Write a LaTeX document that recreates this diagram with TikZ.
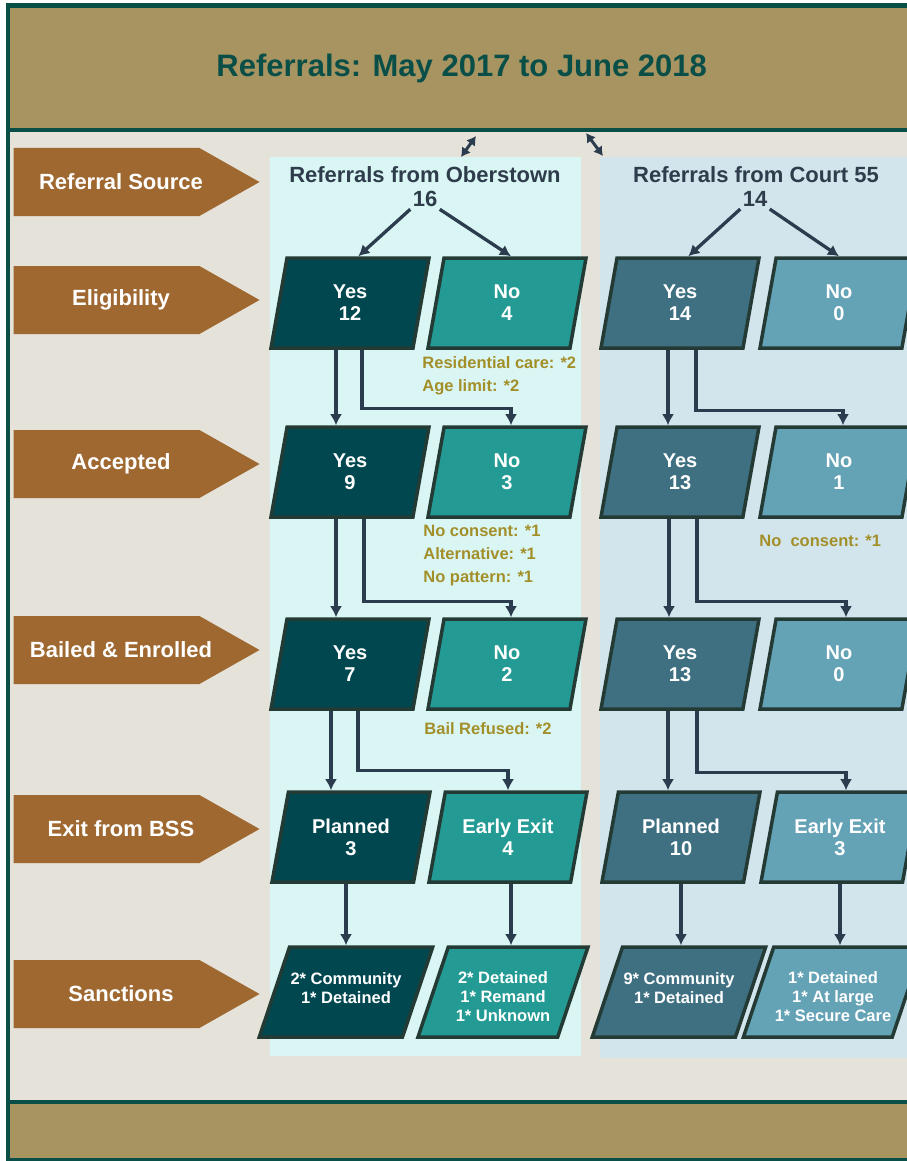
\documentclass[tikz,border=0pt]{standalone}
\usepackage{fontspec}
\setmainfont{Liberation Sans}
\usepackage{xcolor}
\definecolor{FrameGreen}{HTML}{0A4F47}
\definecolor{HeaderTan}{HTML}{A89461}
\definecolor{BodyGrey}{HTML}{E5E2DA}
\definecolor{StageBrown}{HTML}{9E6830}
\definecolor{PanelCyan}{HTML}{DAF6F4}
\definecolor{PanelBlue}{HTML}{D3E5EC}
\definecolor{YesDark}{HTML}{00474F}
\definecolor{NoTeal}{HTML}{239B94}
\definecolor{YesSlate}{HTML}{3E7082}
\definecolor{NoSteel}{HTML}{64A2B6}
\definecolor{EdgeDark}{HTML}{243B35}
\definecolor{ArrowSlate}{HTML}{2B3C4E}
\definecolor{NoteGold}{HTML}{A38F2A}
\definecolor{HeadSlate}{HTML}{2E3C4B}
\usepackage{tikz}
\usetikzlibrary{positioning,shapes.geometric,shapes.symbols,arrows.meta}

\begin{document}
\begin{tikzpicture}[x=1pt, y=-1pt, line width=3pt, >={Latex[length=11pt,width=12pt]},
    band/.style={fill=HeaderTan, inner sep=0pt, minimum width=904.5pt},
    panel/.style={inner sep=0pt, minimum width=311pt, minimum height=899pt},
    stage/.style={signal, signal to=east, signal pointer angle=59, fill=StageBrown,
        inner sep=0pt, minimum width=246pt, minimum height=68pt, anchor=west},
    stagetext/.style={text=white, inner sep=0pt, font=\bfseries\fontsize{22}{24}\selectfont},
    colhead/.style={text=HeadSlate, inner sep=1pt, font=\bfseries\fontsize{22}{24}\selectfont},
    flowbox/.style={trapezium, draw=EdgeDark, line width=3.5pt, trapezium left angle=67,
        trapezium right angle=113, trapezium stretches body, minimum width=158pt,
        minimum height=90pt, inner sep=1pt, text=white, align=center,
        font=\bfseries\fontsize{20}{22}\selectfont},
    sanctbox/.style={flowbox, trapezium left angle=64, trapezium right angle=116,
        minimum width=170pt, font=\bfseries\fontsize{16.5}{19}\selectfont},
    note/.style={text=NoteGold, inner sep=0pt, align=left, anchor=north west,
        font=\bfseries\fontsize{16.5}{23}\selectfont},
    link/.style={->, color=ArrowSlate, line width=3.3pt},
    hdrlink/.style={<->, color=ArrowSlate, line width=3pt, >={Latex[length=9pt,width=11pt]}}]
    \useasboundingbox (0,0) rectangle (906,1161);

    % background, header and footer bands
    \fill [BodyGrey] (9.5,7) rectangle (914,1159);
    \node [band, minimum height=122pt, text=FrameGreen,
           font=\bfseries\fontsize{31}{34}\selectfont] (Header) at (461.75,68) {Referrals: May 2017 to June 2018};
    \node [band, minimum height=56pt] (Footer) at (461.75,1131) {};

    \node [panel, fill=PanelCyan] (PanelObs) at (425.5,606.5) {};
    \node [panel, fill=PanelBlue, minimum width=314pt, minimum height=901pt] (PanelCourt) at (757,607.5) {};

    % stages down the left
    \node [stage] (StSource) at (12,182) {};
    \node [stage] (StElig) at (12,300) {};
    \node [stage] (StAcc) at (12,464) {};
    \node [stage] (StBail) at (12,650) {};
    \node [stage] (StExit) at (12,829) {};
    \node [stage] (StSanc) at (12,994) {};
    \node [stagetext] (StSourceTxt) at ([xshift=109]StSource.west) {Referral Source};
    \node [stagetext] (StEligTxt) at ([xshift=109]StElig.west) {Eligibility};
    \node [stagetext] (StAccTxt) at ([xshift=109]StAcc.west) {Accepted};
    \node [stagetext] (StBailTxt) at ([xshift=109]StBail.west) {Bailed \& Enrolled};
    \node [stagetext] (StExitTxt) at ([xshift=109]StExit.west) {Exit from BSS};
    \node [stagetext] (StSancTxt) at ([xshift=109]StSanc.west) {Sanctions};

    % column heads
    \node [colhead] (ObsHead) at (425,175) {Referrals from Oberstown};
    \node [colhead] (ObsTotal) at (425,199) {16};
    \node [colhead] (CourtHead) at (756,175) {Referrals from Court 55};
    \node [colhead] (CourtTotal) at (755,199) {14};

    \node [flowbox, fill=YesDark] (ElgYes1) at (350,303) {Yes\\12};
    \node [flowbox, fill=NoTeal] (ElgNo1) at (507,303) {No\\4};
    \node [flowbox, fill=YesSlate] (ElgYes2) at (680,303) {Yes\\14};
    \node [flowbox, fill=NoSteel] (ElgNo2) at (839,303) {No\\0};

    \node [flowbox, fill=YesDark] (AccYes1) at (350,472) {Yes\\9};
    \node [flowbox, fill=NoTeal] (AccNo1) at (507,472) {No\\3};
    \node [flowbox, fill=YesSlate] (AccYes2) at (680,472) {Yes\\13};
    \node [flowbox, fill=NoSteel] (AccNo2) at (839,472) {No\\1};

    \node [flowbox, fill=YesDark] (BailYes1) at (350,664) {Yes\\7};
    \node [flowbox, fill=NoTeal] (BailNo1) at (507,664) {No\\2};
    \node [flowbox, fill=YesSlate] (BailYes2) at (680,664) {Yes\\13};
    \node [flowbox, fill=NoSteel] (BailNo2) at (839,664) {No\\0};

    \node [flowbox, fill=YesDark] (ExitPlan1) at (351,837) {Planned\\3};
    \node [flowbox, fill=NoTeal] (ExitEarly1) at (508,837) {Early Exit\\4};
    \node [flowbox, fill=YesSlate] (ExitPlan2) at (681,837) {Planned\\10};
    \node [flowbox, fill=NoSteel] (ExitEarly2) at (840,837) {Early Exit\\3};

    \node [sanctbox, fill=YesDark] (SancPlan1) at (346,992) {\rule{0pt}{22pt}2* Community\\1* Detained\\\mbox{}};
    \node [sanctbox, fill=NoTeal] (SancEarly1) at (503,992) {\rule{0pt}{22pt}2* Detained\\1* Remand\\1* Unknown};
    \node [sanctbox, fill=YesSlate] (SancPlan2) at (679,992) {\rule{0pt}{22pt}9* Community\\1* Detained\\\mbox{}};
    \node [sanctbox, fill=NoSteel] (SancEarly2) at (833,992) {\rule{0pt}{22pt}1* Detained\\1* At large\\1* Secure Care};

    % reasons under the No boxes
    \node [note] (ElgNote1) at ([xshift=-5, yshift=-5]ElgNo1.bottom left corner) {Residential care: *2\\Age limit: *2};
    \node [note] (AccNote1) at ([xshift=-4, yshift=-5]AccNo1.bottom left corner) {No consent: *1\\Alternative: *1\\No pattern: *1};
    \node [note] (AccNote2) at ([xshift=0, yshift=-15]AccNo2.bottom left corner) {No\ \ consent: *1};
    \node [note] (BailNote1) at ([xshift=-3, yshift=-10]BailNo1.bottom left corner) {Bail Refused: *2};

    % links from the header
    \coordinate (LinkObsTop) at (476,136);
    \coordinate (LinkObsEnd) at (461,157);
    \coordinate (LinkCourtTop) at (586,133);
    \coordinate (LinkCourtEnd) at (603,156);
    \draw [hdrlink] (LinkObsTop) -- (LinkObsEnd);
    \draw [hdrlink] (LinkCourtTop) -- (LinkCourtEnd);

    \draw [link] (ObsTotal.south west) -- (ElgYes1.top side);
    \draw [link] (ObsTotal.south east) -- ([xshift=4]ElgNo1.north);
    \draw [link] (CourtTotal.south west) -- (ElgYes2.top side);
    \draw [link] (CourtTotal.south east) -- (ElgNo2.north);

    \draw [link] ([xshift=-14]ElgYes1.south) -- ([xshift=-14]ElgYes1.south |- AccYes1.north);
    \draw [link] ([xshift=12]ElgYes1.south) -- ++(0,59) -| ([xshift=4]AccNo1.north);
    \draw [link] ([xshift=-12]ElgYes2.south) -- ([xshift=-12]ElgYes2.south |- AccYes2.north);
    \draw [link] ([xshift=16]ElgYes2.south) -- ++(0,61) -| ([xshift=4]AccNo2.north);

    \draw [link] ([xshift=-14]AccYes1.south) -- ([xshift=-14]AccYes1.south |- BailYes1.north);
    \draw [link] ([xshift=14]AccYes1.south) -- ++(0,83) -| ([xshift=4]BailNo1.north);
    \draw [link] ([xshift=-11]AccYes2.south) -- ([xshift=-11]AccYes2.south |- BailYes2.north);
    \draw [link] ([xshift=17]AccYes2.south) -- ++(0,83) -| ([xshift=7]BailNo2.north);

    \draw [link] ([xshift=-19]BailYes1.south) -- ([xshift=-19]BailYes1.south |- ExitPlan1.north);
    \draw [link] ([xshift=8]BailYes1.south) -- ++(0,60) -| (ExitEarly1.north);
    \draw [link] ([xshift=-12]BailYes2.south) -- ([xshift=-12]BailYes2.south |- ExitPlan2.north);
    \draw [link] ([xshift=17]BailYes2.south) -- ++(0,62) -| ([xshift=6]ExitEarly2.north);

    \draw [link] (SancPlan1.north |- ExitPlan1.south) -- (SancPlan1.north);
    \draw [link] ([xshift=3]ExitEarly1.south) -- ([xshift=3]ExitEarly1.south |- SancEarly1.north);
    \draw [link] (ExitPlan2.south) -- (ExitPlan2.south |- SancPlan2.north);
    \draw [link] (ExitEarly2.south) -- (ExitEarly2.south |- SancEarly2.north);

    % frame
    \draw [FrameGreen, line width=4pt] (Header.south west) -- (Header.south east);
    \draw [FrameGreen, line width=4pt] (Footer.north west) -- (Footer.north east);
    \draw [FrameGreen, line width=4.5pt] (Header.north west) rectangle (Footer.south east);
\end{tikzpicture}
\end{document}
